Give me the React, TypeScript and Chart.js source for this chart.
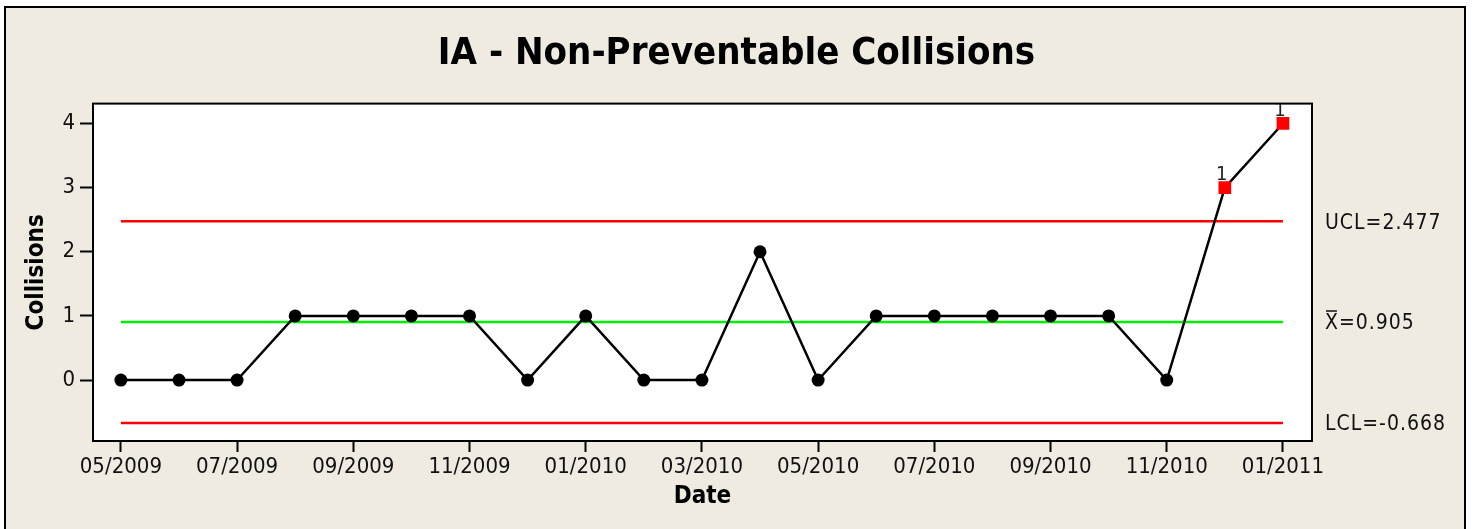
import React, { useEffect, useRef } from "react";
import { Chart, registerables } from "chart.js";

Chart.register(...registerables);

const months = [
  "05/2009", "06/2009", "07/2009", "08/2009", "09/2009", "10/2009", "11/2009",
  "12/2009", "01/2010", "02/2010", "03/2010", "04/2010", "05/2010", "06/2010",
  "07/2010", "08/2010", "09/2010", "10/2010", "11/2010", "12/2010", "01/2011",
];
const collisions = [0, 0, 0, 1, 1, 1, 1, 0, 1, 0, 0, 2, 0, 1, 1, 1, 1, 1, 0, 3, 4];
const UCL = 2.477;
const CENTER = 0.905;
const LCL = -0.668;
const yTicks = [0, 1, 2, 3, 4];
const xTickIndices = [0, 2, 4, 6, 8, 10, 12, 14, 16, 18, 20];

const BEIGE = "#efebe1";
const FONT = "'DejaVu Sans Condensed', 'DejaVu Sans', sans-serif";

const framePlugin = {
  id: "frame",
  beforeDraw(chart: any) {
    const { ctx, chartArea: a } = chart;
    ctx.save();
    ctx.fillStyle = "#ffffff";
    ctx.fillRect(0, 0, chart.width, chart.height);
    ctx.fillStyle = BEIGE;
    ctx.fillRect(5, 7, 1460, chart.height);
    ctx.strokeStyle = "#000";
    ctx.lineWidth = 2;
    ctx.strokeRect(5, 7, 1460, chart.height + 10);
    ctx.fillStyle = "#ffffff";
    ctx.fillRect(a.left, a.top, a.right - a.left, a.bottom - a.top);
    ctx.restore();
  },
  afterDatasetsDraw(chart: any) {
    const { ctx, chartArea: a } = chart;
    const xs = chart.scales.x;
    const ys = chart.scales.y;
    ctx.save();
    ctx.beginPath();
    ctx.rect(a.left, a.top, a.right - a.left, a.bottom - a.top);
    ctx.clip();
    ctx.fillStyle = "#222";
    ctx.font = `20px ${FONT}`;
    ctx.textAlign = "center";
    ctx.textBaseline = "middle";
    collisions.forEach((v, i) => {
      if (v > UCL || v < LCL) {
        ctx.fillText("1", xs.getPixelForValue(i) - 3, ys.getPixelForValue(v) - 13);
      }
    });
    ctx.restore();
  },
  afterDraw(chart: any) {
    const { ctx, chartArea: a } = chart;
    const ys = chart.scales.y;
    ctx.save();
    ctx.strokeStyle = "#000";
    ctx.lineWidth = 2;
    ctx.strokeRect(a.left, a.top, a.right - a.left, a.bottom - a.top);
    ctx.fillStyle = "#111";
    ctx.font = `21px ${FONT}`;
    (ctx as any).letterSpacing = "1px";
    ctx.textAlign = "left";
    ctx.textBaseline = "middle";
    const x0 = a.right + 13;
    ctx.fillText(`UCL=${UCL.toFixed(3)}`, x0, ys.getPixelForValue(UCL) + 2);
    const yc = ys.getPixelForValue(CENTER) + 2;
    ctx.fillText("X", x0, yc);
    const wX = ctx.measureText("X").width;
    ctx.fillText(`=${CENTER.toFixed(3)}`, x0 + wX, yc);
    ctx.strokeStyle = "#111";
    ctx.lineWidth = 1.5;
    ctx.beginPath();
    ctx.moveTo(x0 + 1, yc - 13);
    ctx.lineTo(x0 + wX - 2, yc - 13);
    ctx.stroke();
    ctx.fillText(`LCL=${LCL.toFixed(3)}`, x0, ys.getPixelForValue(LCL) + 2);
    ctx.restore();
  },
};

export default function App() {
  const ref = useRef<HTMLCanvasElement>(null);
  useEffect(() => {
    if (!ref.current) return;
    const pts = collisions.map((v, i) => ({ x: i, y: v }));
    const ooc = collisions.map((v) => v > UCL || v < LCL);
    const lastIdx = collisions.length - 1;
    const chart = new Chart(ref.current, {
      type: "line",
      data: {
        datasets: [
          {
            data: pts,
            borderColor: "#000",
            borderWidth: 2.5,
            tension: 0,
            pointStyle: ooc.map((o) => (o ? "rect" : "circle")) as any,
            pointRadius: ooc.map((o) => (o ? 9 : 6.5)),
            pointBackgroundColor: ooc.map((o) => (o ? "#ff0000" : "#000")),
            pointBorderColor: ooc.map((o) => (o ? "#ff0000" : "#000")),
            pointBorderWidth: 0,
          },
          {
            data: [{ x: 0, y: UCL }, { x: lastIdx, y: UCL }],
            borderColor: "#ff0000",
            borderWidth: 2.5,
            pointRadius: 0,
          },
          {
            data: [{ x: 0, y: CENTER }, { x: lastIdx, y: CENTER }],
            borderColor: "#00ee00",
            borderWidth: 2.5,
            pointRadius: 0,
          },
          {
            data: [{ x: 0, y: LCL }, { x: lastIdx, y: LCL }],
            borderColor: "#ff0000",
            borderWidth: 2.5,
            pointRadius: 0,
          },
        ],
      },
      options: {
        responsive: false,
        animation: false,
        events: [],
        layout: { padding: 0 },
        plugins: {
          legend: { display: false },
          tooltip: { enabled: false },
          title: {
            display: true,
            text: "IA - Non-Preventable Collisions",
            color: "#000",
            font: { family: FONT, size: 38, weight: "bold", lineHeight: 1.2 },
            padding: { top: 31, bottom: 27 },
          },
        },
        scales: {
          x: {
            type: "linear",
            min: -0.48,
            max: 20.5,
            afterFit(scale: any) {
              scale.height = 88;
            },
            afterBuildTicks(scale: any) {
              scale.ticks = xTickIndices.map((v) => ({ value: v }));
            },
            ticks: {
              autoSkip: false,
              maxRotation: 0,
              color: "#111",
              font: { family: FONT, size: 22 },
              padding: 2,
              callback: (v: any) => months[v as number],
            },
            grid: {
              drawOnChartArea: false,
              drawTicks: true,
              tickLength: 11,
              tickWidth: 2,
              tickColor: "#000",
            },
            border: { display: false },
            title: {
              display: true,
              text: "Date",
              color: "#000",
              font: { family: FONT, size: 24, weight: "bold", lineHeight: 1.2 },
              padding: { top: 0, bottom: 18 },
            },
          },
          y: {
            type: "linear",
            min: -0.95,
            max: 4.31,
            afterFit(scale: any) {
              scale.width = 93;
            },
            afterBuildTicks(scale: any) {
              scale.ticks = yTicks.map((v) => ({ value: v }));
            },
            ticks: {
              color: "#111",
              font: { family: FONT, size: 22 },
              padding: 5,
            },
            grid: {
              drawOnChartArea: false,
              drawTicks: true,
              tickLength: 13,
              tickWidth: 2,
              tickColor: "#000",
            },
            border: { display: false },
            title: {
              display: true,
              text: "Collisions",
              color: "#000",
              font: { family: FONT, size: 24, weight: "bold", lineHeight: 1.2 },
              padding: { top: 22, bottom: 0 },
            },
          },
          yr: {
            type: "linear",
            position: "right",
            display: true,
            afterFit(scale: any) {
              scale.width = 161;
            },
            ticks: { display: false },
            grid: { display: false },
            border: { display: false },
          },
        },
      },
      plugins: [framePlugin],
    });
    return () => chart.destroy();
  }, []);
  return (
    <div style={{ position: "absolute", left: 0, top: 0, width: 1473, height: 529 }}>
      <canvas ref={ref} width={1473} height={529} />
    </div>
  );
}
